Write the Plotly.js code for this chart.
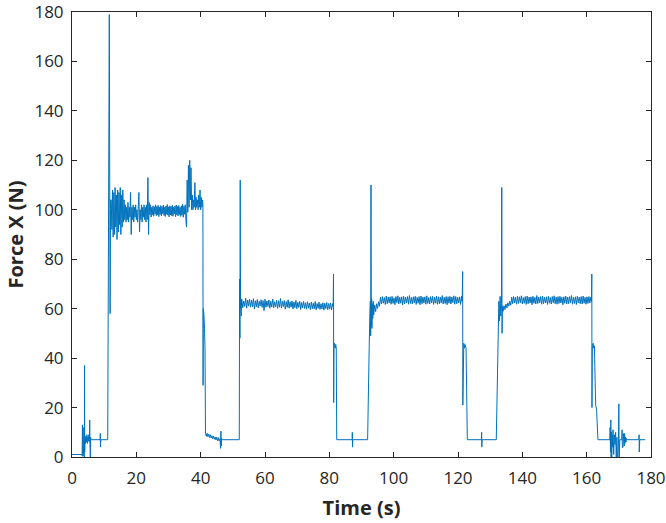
<!DOCTYPE html>
<html>
<head>
<meta charset="utf-8">
<script src="https://cdn.plot.ly/plotly-3.0.1.min.js"></script>
<style>html,body{margin:0;padding:0;background:#fff;}#chart{width:666px;height:523px;}</style>
</head>
<body>
<div id="chart"></div>
<script>
// ---- Data (time in s, Force X in N) ----
// start-up transient and first jump
const startTime  = [0, 3.0, 3.15, 3.25, 3.35, 3.45, 3.6, 3.85, 3.9, 3.95, 4.05, 4.2, 4.35, 4.5, 4.65, 4.8, 4.95, 5.1, 5.25, 5.4, 5.5, 5.6, 5.7, 5.8, 5.9, 6.1, 8.75, 8.8, 8.85, 8.9, 8.95, 11.1, 11.3, 11.6, 11.75, 11.85, 12.0];
const startForce = [1, 1, 0.5, 13, 0.3, 12, 1, 0, 37, 2, 8, 5.5, 8.5, 6, 9, 5.5, 8, 6.5, 9, 6, 15, 5, 0, 8, 7, 7, 7, 9.5, 4, 7.5, 7, 7, 100, 179, 100, 58, 104];

// plateau A (~100 N), sampled every 0.2 s from 12.2 s
const plateauAStart = 12.2, plateauAStep = 0.2;
const plateauAForce = [
 104, 92, 108, 89, 107, 90, 109, 93, 106, 88, 108, 91, 107, 94, 109, 90, 106, 93, 108, 95,
 104, 96, 102, 95, 101, 96, 103, 95, 101, 97, 107, 90, 101, 96, 102, 95, 101, 97, 102, 96,
 100, 95, 101, 107, 91, 100, 96, 102, 95, 101, 97, 102, 96, 101, 95, 102, 96, 113, 90, 103,
 98, 102, 97, 101,
 98.0, 101.6, 97.4, 101.2, 98.3, 102.0, 97.6, 101.4, 97.9, 101.8,
 97.2, 101.1, 98.1, 101.7, 97.5, 101.3, 98.4, 101.9, 97.7, 101.0,
 97.3, 101.5, 98.2, 102.1, 97.8, 101.2, 97.1, 101.6, 98.0, 101.4,
 97.6, 101.8, 97.4, 101.1, 98.3, 101.5, 97.2, 101.9, 97.9, 101.3,
 97.5, 101.7, 98.1, 101.0, 97.3, 101.6, 97.8, 102.2, 97.0, 101.4,
 98.2,
 102, 96, 93, 112, 99, 118, 101, 120, 104, 117, 100, 106, 100, 104, 101, 111, 100, 105, 101, 104, 100, 106, 101, 108, 100, 105, 101, 104
];

// drop after plateau A, rest, rise to plateau B
const abTime  = [40.7, 40.75, 40.8, 41.0, 41.2, 41.35, 41.5, 41.75, 42.0, 42.25, 42.5, 42.75, 43.0, 43.25, 43.5, 43.75, 44.0, 44.25, 44.5, 44.75, 45.0, 45.25, 45.5, 45.75, 46.0, 46.2, 46.3, 46.4, 46.5, 46.7, 52.0, 52.1, 52.15, 52.2, 52.3, 52.4, 52.5, 52.6, 52.7];
const abForce = [102, 29, 60, 58, 52, 44, 9.5, 8.4, 9.6, 8.2, 9.3, 7.9, 9.0, 7.7, 8.6, 7.4, 8.5, 7.2, 8.1, 6.9, 8.0, 6.6, 7.8, 6.5, 7.4, 3.5, 10.5, 4.5, 7.5, 7, 7, 68, 72, 48, 112, 60, 64, 57, 63];

// plateau B (~61.5 N), every 0.3 s from 52.8 s
const plateauBStart = 52.8, plateauBStep = 0.3;
const plateauBForce = [
 63.8, 60.4, 63.1, 60.9, 64.2, 60.2, 63.5, 61.0, 63.9, 60.6,
 63.4, 60.8, 64.0, 59.9, 63.2, 60.7, 63.7, 60.3, 63.0, 61.1,
 63.6, 60.5, 63.3, 59.2, 63.8, 60.6, 63.1, 60.9, 63.5, 60.2,
 63.0, 60.7, 63.9, 60.4, 62.8, 60.8, 63.4, 60.1, 63.2, 60.6,
 64.1, 60.3, 63.0, 60.9, 63.3, 59.8, 62.9, 60.5, 63.6, 60.2,
 62.8, 60.6, 63.1, 59.9, 62.7, 60.4, 63.4, 60.0, 62.6, 60.5,
 63.0, 59.7, 62.5, 60.3, 62.9, 60.1, 62.4, 59.8, 62.8, 60.2,
 62.3, 59.6, 62.7, 60.0, 62.2, 59.9, 62.9, 59.5, 62.1, 60.1,
 62.6, 59.7, 62.0, 59.9, 62.4, 59.4, 62.2, 60.0, 62.5, 59.6,
 62.1, 59.8, 62.3, 59.5, 62.0
];

const bcTime  = [81.2, 81.3, 81.35, 81.45, 81.6, 81.8, 82.0, 82.15, 82.3, 87.1, 87.15, 87.2, 87.25, 87.3, 91.9, 92.0, 92.2, 92.4, 92.6, 92.75, 92.85, 92.95, 93.05, 93.15, 93.25, 93.35, 93.5, 93.65];
const bcForce = [61, 74, 22, 45, 46, 44, 45.5, 44, 7, 7, 10, 4, 8, 7, 7, 20, 26, 45, 58, 63, 49, 110, 53, 64, 52, 62, 56, 63];

// plateau C (~63.3 N), every 0.3 s from 93.8 s
const plateauCStart = 93.8, plateauCStep = 0.3;
const plateauCForce = [
 57.5, 61.5, 58.8, 62.0, 60.1, 62.8, 61.0,
 64.6, 61.9, 64.9, 62.2, 64.5, 61.7, 65.1, 62.0, 64.7, 62.3,
 64.8, 61.8, 65.0, 62.1, 64.4, 61.6, 64.9, 62.4, 65.2, 61.9,
 64.6, 62.2, 64.8, 61.5, 65.0, 62.0, 64.7, 62.3, 64.9, 61.8,
 65.3, 62.1, 64.5, 61.9, 64.8, 62.4, 65.0, 61.7, 64.6, 62.2,
 64.9, 61.6, 65.1, 62.0, 64.7, 62.3, 64.8, 61.8, 65.2, 62.1,
 64.5, 61.9, 64.9, 62.4, 65.0, 61.7, 64.6, 62.2, 65.1, 61.8,
 64.8, 62.0, 64.7, 62.3, 65.3, 61.9, 64.6, 62.1, 64.9, 61.6,
 64.8, 62.2, 65.0, 61.9, 64.7, 62.4, 65.2, 61.8, 64.9, 62.0,
 64.6, 62.3, 64.8, 61.7, 65.0
];

const cdTime  = [121.3, 121.45, 121.5, 121.6, 121.8, 122.0, 122.2, 122.5, 122.9, 127.3, 127.35, 127.4, 127.45, 127.5, 131.9, 132.1, 132.3, 132.5, 132.7, 132.9, 133.1, 133.3, 133.5, 133.6, 133.7, 133.8];
const cdForce = [63, 75, 21, 45, 46, 44, 45.5, 44, 7, 7, 10, 4, 8, 7, 7, 25, 45, 50, 63, 55, 65, 57, 62, 109, 50, 61];

// plateau D (~63.3 N), every 0.3 s from 134.0 s
const plateauDStart = 134.0, plateauDStep = 0.3;
const plateauDForce = [
 58.9, 61.2, 59.6, 61.9, 60.3, 62.4, 61.0, 63.0, 61.4,
 64.7, 62.0, 64.9, 62.3, 64.6, 61.8, 65.0, 62.1, 64.8, 62.4,
 65.2, 61.9, 64.5, 62.2, 64.9, 61.7, 65.1, 62.0, 64.7, 62.3,
 64.8, 61.6, 65.0, 62.2, 64.6, 61.9, 65.3, 62.1, 64.7, 62.4,
 64.9, 61.8, 65.1, 62.0, 64.6, 62.3, 64.8, 61.7, 65.0, 62.2,
 64.5, 61.9, 64.9, 62.4, 65.2, 62.0, 64.7, 61.8, 64.9, 62.1,
 65.0, 62.3, 64.6, 61.6, 64.8, 62.2, 65.1, 61.9, 64.7, 62.0,
 64.9, 62.4, 65.3, 61.8, 64.6, 62.1, 64.8, 61.7, 65.0, 62.3,
 64.7, 62.0, 64.9, 61.9, 65.1, 62.2, 64.6, 61.8, 64.8, 62.1,
 64.9, 62.3, 64.7
];

const endTime  = [161.5, 161.6, 161.65, 161.75, 162.0, 162.2, 162.4, 162.8, 163.1, 163.5, 167.2, 167.3, 167.4, 167.5, 167.6, 167.7, 167.8, 167.9, 168.0, 168.2, 168.4, 168.6, 168.8, 169.0, 169.2, 169.4, 169.6, 169.9, 170.0, 170.1, 170.3, 170.9, 171.0, 171.1, 171.2, 171.3, 171.4, 171.5, 171.6, 171.7, 171.8, 171.9, 172.0, 172.2, 172.4, 172.6, 176.2, 176.3, 176.35, 176.4, 176.5, 178.2];
const endForce = [63, 74, 20, 45, 46, 44, 45, 21, 19, 7, 7, 12, 2, 15, 0, 10, -2, 9, 4, 11, 1, 9, 5, 10, 0, 8, -3, 7, 21.5, -2, 7, 7, 11, 3.7, 10, 4, 9.5, 5, 9, 4.5, 9.5, 5.5, 8, 6, 7.5, 7, 7, 9, 2, 8, 7, 7];

const xTicks = [0, 20, 40, 60, 80, 100, 120, 140, 160, 180];
const yTicks = [0, 20, 40, 60, 80, 100, 120, 140, 160, 180];

// ---- assemble the single signal trace ----
const t = [], f = [];
function addPairs(ts, fs) { for (let i = 0; i < ts.length; i++) { t.push(ts[i]); f.push(fs[i]); } }
function addSampled(t0, dt, fs) { for (let i = 0; i < fs.length; i++) { t.push(+(t0 + i * dt).toFixed(3)); f.push(fs[i]); } }
addPairs(startTime, startForce);
addSampled(plateauAStart, plateauAStep, plateauAForce);
addPairs(abTime, abForce);
addSampled(plateauBStart, plateauBStep, plateauBForce);
addPairs(bcTime, bcForce);
addSampled(plateauCStart, plateauCStep, plateauCForce);
addPairs(cdTime, cdForce);
addSampled(plateauDStart, plateauDStep, plateauDForce);
addPairs(endTime, endForce);

const axisColor = '#262626';
const tickFont = {family: 'Open Sans, sans-serif', size: 17, color: axisColor};
const titleFont = {family: 'Open Sans, sans-serif', size: 20, color: axisColor, weight: 'bold'};

const axisCommon = {
  range: [0, 180], showgrid: false, zeroline: false,
  showline: true, linecolor: axisColor, linewidth: 1, mirror: 'ticks',
  ticks: 'inside', ticklen: 5, tickwidth: 1, tickcolor: axisColor,
  tickfont: tickFont, ticklabeloverflow: 'allow'
};

const data = [{
  x: t, y: f, type: 'scatter', mode: 'lines',
  line: {color: '#0072BD', width: 1}, hoverinfo: 'skip', showlegend: false
}];

const layout = {
  width: 666, height: 523,
  margin: {l: 72, r: 15, t: 12, b: 66},
  paper_bgcolor: '#ffffff', plot_bgcolor: '#ffffff',
  xaxis: Object.assign({}, axisCommon, {tickvals: xTicks, ticktext: xTicks.map(String),
    ticklabelstandoff: 6,
    title: {text: '<b>Time (s)</b>', font: titleFont, standoff: 12}}),
  yaxis: Object.assign({}, axisCommon, {tickvals: yTicks, ticktext: yTicks.map(String),
    ticklabelstandoff: 4,
    title: {text: '<b>Force X (N)</b>', font: titleFont, standoff: 5}})
};

Plotly.newPlot('chart', data, layout, {staticPlot: true, displayModeBar: false});
</script>
</body>
</html>
